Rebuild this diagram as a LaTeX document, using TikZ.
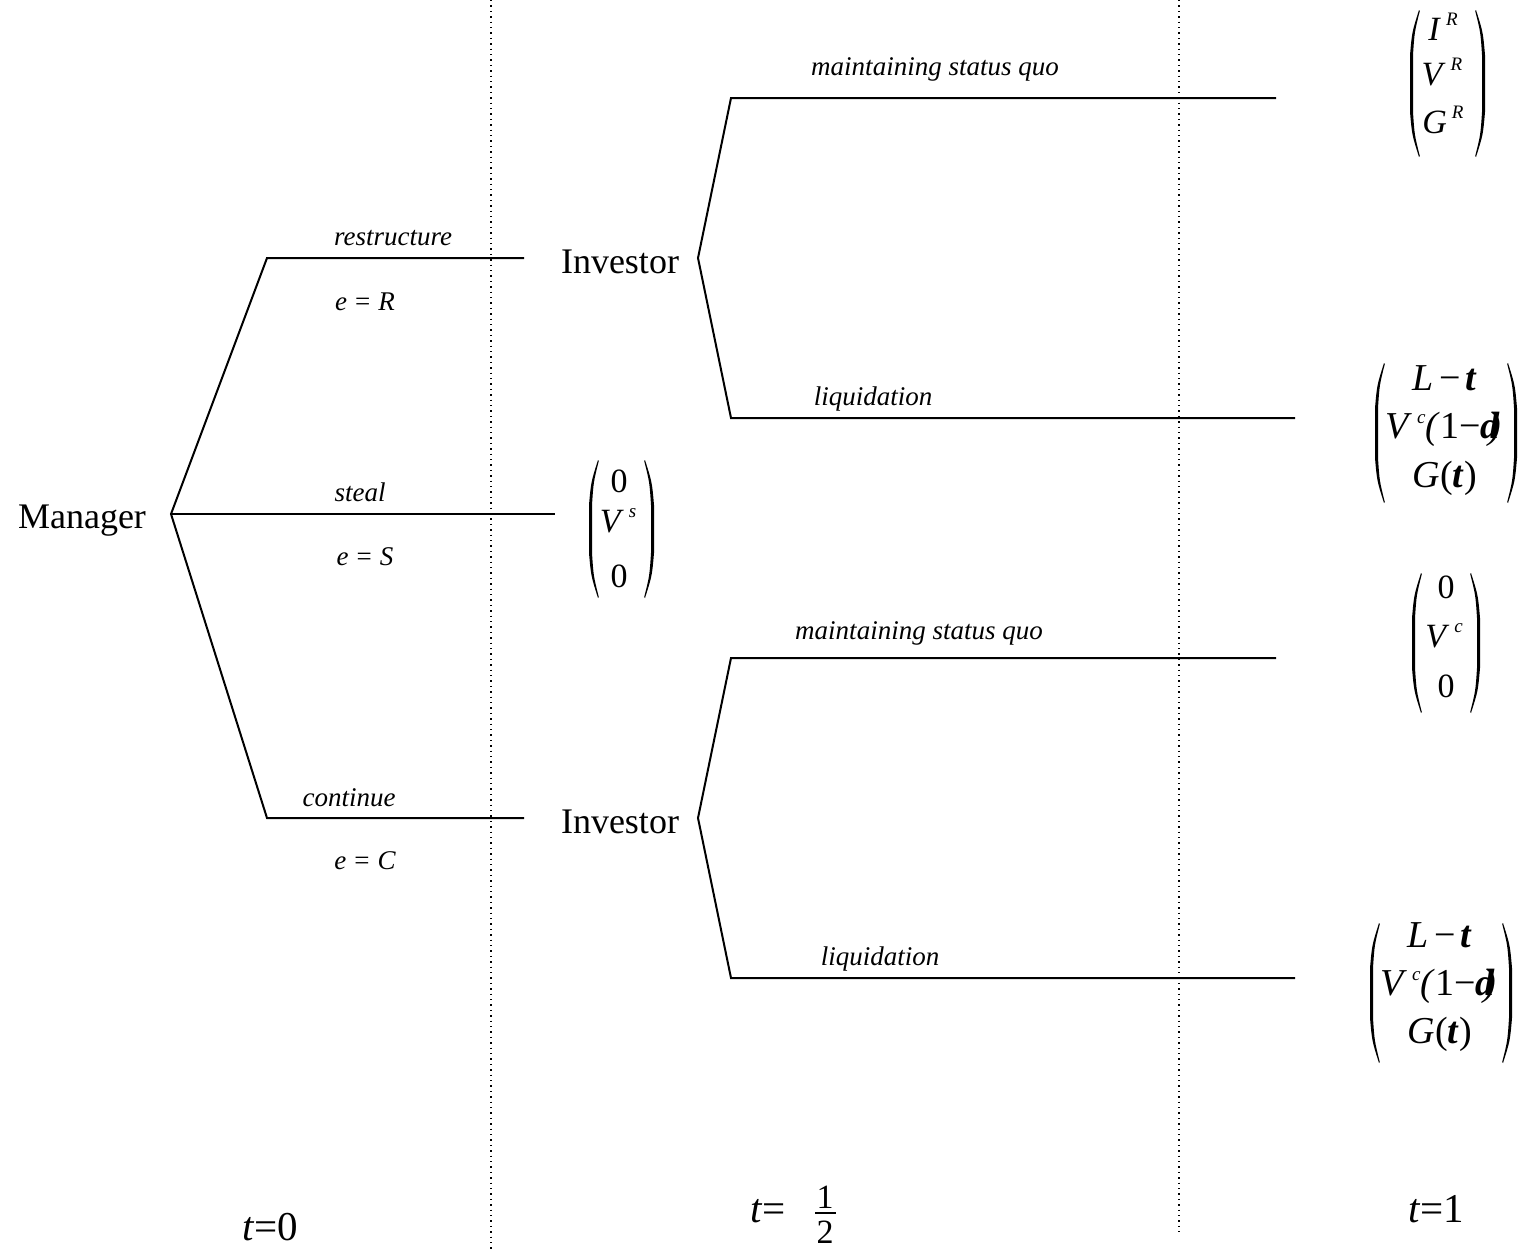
\documentclass[tikz,border=0pt]{standalone}
\usepackage{fontspec}
\setmainfont{Liberation Serif}

% bold italic symbol
\newcommand\bfit[1]{\textbf{\textit{#1}}}
% small raised italic superscript
\newcommand\supit[1]{\kern2.5pt\raisebox{7.5pt}{\fontsize{9.5}{10}\selectfont\itshape #1}}
% tall round brackets: outer x, top y, bottom y
\newcommand\leftbow[3]{%
  \fill ({#1+9},{#2}) .. controls ({#1+2},{#2+22}) .. ({#1},{#2+45})
    -- ({#1},{#3-45}) .. controls ({#1+2},{#3-22}) .. ({#1+9},{#3})
    -- ({#1+9.8},{#3-1}) .. controls ({#1+4.5},{#3-22}) .. ({#1+3},{#3-45})
    -- ({#1+3},{#2+45}) .. controls ({#1+4.5},{#2+22}) .. ({#1+9.8},{#2+1}) -- cycle;}
\newcommand\rightbow[3]{%
  \fill ({#1-9},{#2}) .. controls ({#1-2},{#2+22}) .. ({#1},{#2+45})
    -- ({#1},{#3-45}) .. controls ({#1-2},{#3-22}) .. ({#1-9},{#3})
    -- ({#1-9.8},{#3-1}) .. controls ({#1-4.5},{#3-22}) .. ({#1-3},{#3-45})
    -- ({#1-3},{#2+45}) .. controls ({#1-4.5},{#2+22}) .. ({#1-9.8},{#2+1}) -- cycle;}

\tikzset{
  branch/.style={line width=1pt, line join=miter},
  timeline/.style={dotted, line width=0.7pt},
  act/.style={font=\fontsize{13.5}{15}\selectfont\itshape, anchor=base, inner sep=0pt},
  player/.style={font=\fontsize{18}{20}\selectfont, anchor=base, inner sep=0pt},
  entry/.style={font=\fontsize{17}{19}\selectfont, anchor=base, inner sep=0pt},
  wideentry/.style={font=\fontsize{19}{21}\selectfont, anchor=base, inner sep=0pt},
  period/.style={font=\fontsize{20.5}{22}\selectfont, anchor=base, inner sep=0pt},
  half/.style={font=\fontsize{17}{18}\selectfont, anchor=base, inner sep=0pt},
}

\begin{document}
\begin{tikzpicture}[x=0.5pt, y=-0.5pt]
\useasboundingbox (0,0) rectangle (1526,1249);

% period separators
\coordinate (s1t) at (491,0);    \coordinate (s1b) at (491,1249);
\coordinate (s2t) at (1179,0);   \coordinate (s2b) at (1179,1232);
\draw[timeline] (s1t) -- (s1b);
\draw[timeline] (s2t) -- (s2b);

% players
\node[player] (mgr)  at (82,528)  {Manager};
\node[player] (inv1) at (620,273) {Investor};
\node[player] (inv2) at (620,833) {Investor};

% manager's move
\coordinate (m)   at (171,514);
\coordinate (r1)  at (267,258);  \coordinate (r2) at (524,258);
\coordinate (s2)  at (555,514);
\coordinate (c1)  at (267,818);  \coordinate (c2) at (524,818);
\draw[branch] (r2) -- (r1) -- (m) -- (c1) -- (c2);
\draw[branch] (m) -- (s2);

\node[act] (lr) at (393,245) {restructure};
\node[act] (er) at (365,310) {e\kern4pt\textup{=}\kern4pt R};
\node[act] (ls) at (360,501) {steal};
\node[act] (es) at (365,565) {e\kern4pt\textup{=}\kern4pt S};
\node[act] (lc) at (349,806) {continue};
\node[act] (ec) at (365,869) {e\kern4pt\textup{=}\kern4pt C};

% investor's move after restructuring
\coordinate (i1)  at (698,258);
\coordinate (q1)  at (731,98);   \coordinate (q2) at (1276,98);
\coordinate (l1)  at (731,418);  \coordinate (l2) at (1295,418);
\draw[branch] (q2) -- (q1) -- (i1) -- (l1) -- (l2);
\node[act] (lq1) at (935,75)  {maintaining status quo};
\node[act] (ll1) at (873,405) {liquidation};

% investor's move after continuing
\coordinate (i2)  at (698,818);
\coordinate (q3)  at (731,658);  \coordinate (q4) at (1276,658);
\coordinate (l3)  at (731,978);  \coordinate (l4) at (1295,978);
\draw[branch] (q4) -- (q3) -- (i2) -- (l3) -- (l4);
\node[act] (lq2) at (919,639) {maintaining status quo};
\node[act] (ll2) at (880,965) {liquidation};

% payoff: steal
\leftbow{589}{460}{598}
\rightbow{654}{460}{598}
\node[entry] (ps1) at (619,492) {0};
\node[entry] (ps2) at (618,532) {\textit{V}\supit{s}};
\node[entry] (ps3) at (619,587) {0};

% payoff: restructure, status quo
\leftbow{1410}{10}{157}
\rightbow{1485}{10}{157}
\node[entry] (pa1) at (1443,40)  {\textit{I}\supit{R}};
\node[entry] (pa2) at (1442,85)  {\textit{V}\supit{R}};
\node[entry] (pa3) at (1443,133) {\textit{G}\supit{R}};

% payoff: restructure, liquidation
\leftbow{1375}{363}{503}
\rightbow{1517}{363}{503}
\node[wideentry] (pb1) at (1445,390) {\textit{L}\kern2.5pt−\kern2.5pt\bfit{t}};
\node[wideentry] (pb2) at (1443,438) {\textit{V}\supit{c}\textit{(}1−\bfit{d}\kern-6pt\textit{)}};
\node[wideentry] (pb3) at (1445,487) {\textit{G}(\bfit{t})};

% payoff: continue, status quo
\leftbow{1412}{573}{713}
\rightbow{1480}{573}{713}
\node[entry] (pc1) at (1446,598) {0};
\node[entry] (pc2) at (1444,647) {\textit{V}\supit{c}};
\node[entry] (pc3) at (1446,697) {0};

% payoff: continue, liquidation
\leftbow{1370}{923}{1063}
\rightbow{1512}{923}{1063}
\node[wideentry] (pd1) at (1440,947)  {\textit{L}\kern2.5pt−\kern2.5pt\bfit{t}};
\node[wideentry] (pd2) at (1438,995)  {\textit{V}\supit{c}\textit{(}1−\bfit{d}\kern-6pt\textit{)}};
\node[wideentry] (pd3) at (1440,1043) {\textit{G}(\bfit{t})};

% periods
\node[period] (t0) at (270,1240) {\textit{t}=0};
\node[period, anchor=base west] (th) at (750,1222) {\textit{t}=};
\node[half] (hn) at (825,1208) {1};
\node[half] (hd) at (825,1243) {2};
\coordinate (hb1) at (815,1213); \coordinate (hb2) at (836,1213);
\draw[line width=0.7pt] (hb1) -- (hb2);
\node[period] (t1) at (1436,1222) {\textit{t}=1};
\end{tikzpicture}
\end{document}
